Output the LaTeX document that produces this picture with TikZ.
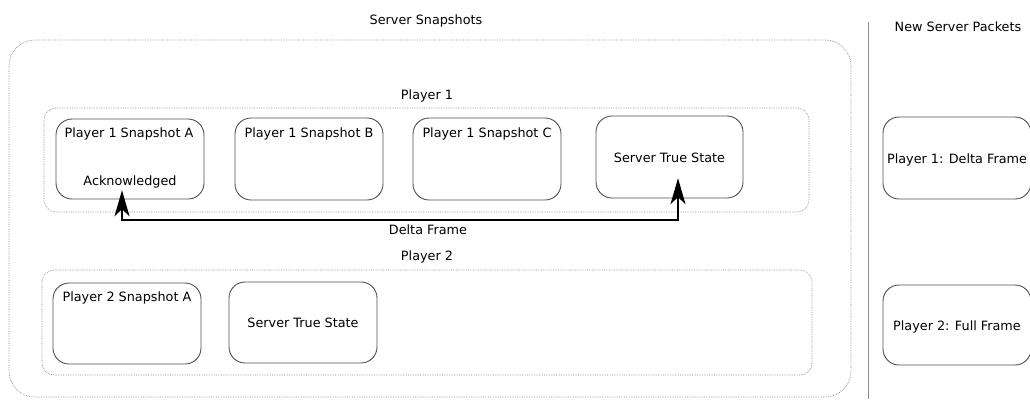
\documentclass[tikz,border=0pt]{standalone}
\usepackage{fontspec}
\setmainfont{DejaVu Sans}
\usetikzlibrary{arrows.meta}
\definecolor{boxline}{HTML}{505050}
\definecolor{grpline}{HTML}{8C8C8C}
\begin{document}
\begin{tikzpicture}[x=1pt,y=-1pt,
  font=\fontsize{12.8}{15}\selectfont,
  card/.style={draw=boxline, line width=0.9pt, rounded corners=16pt, fill=white},
  group/.style={draw=grpline, densely dotted, line width=0.7pt, rounded corners=12pt},
  lbl/.style={inner sep=0pt, anchor=base},
  delta/.style={line width=1.6pt, {Stealth[length=26pt,width=15pt,inset=7pt]}-{Stealth[length=26pt,width=15pt,inset=7pt]}}
]
\useasboundingbox (0,0) rectangle (1030,399);

% titles
\node[lbl] (ttlSnap) at (426,24) {Server Snapshots};
\node[lbl] (ttlPkt) at (958,31) {New Server Packets};
\coordinate (sepTop) at (868,22);
\coordinate (sepBot) at (868,399);
\draw[color=gray!90, line width=1pt] (sepTop) -- (sepBot);

% outer frame
\draw[group, rounded corners=26pt] (9,40) rectangle (851,397);

% player 1 group
\node[lbl] (p1lbl) at (427,99) {Player 1};
\draw[group] (44,108) rectangle (809,212);
\draw[card] (56,119) rectangle (204,199);
\node[minimum width=148pt, minimum height=80pt, inner sep=0pt] (snapA) at (130,159) {};
\node[lbl] (snapAt) at (129,137) {Player 1 Snapshot A};
\node[lbl] (ack) at (130,185) {Acknowledged};
\draw[card] (235,118) rectangle (383,200);
\node[lbl] (snapBt) at (309,137) {Player 1 Snapshot B};
\draw[card] (413,118) rectangle (561,200);
\node[lbl] (snapCt) at (487,137) {Player 1 Snapshot C};
\draw[card] (596,116) rectangle (743,198);
\node[minimum width=147pt, minimum height=82pt, inner sep=0pt] (sts1) at (669.5,157) {};
\node[lbl] (sts1t) at (669.5,162) {Server True State};

% delta frame link
\draw[delta] ([xshift=-8pt,yshift=9pt]snapA.south) -- ++(0,30) -| ([xshift=8.5pt,yshift=20pt]sts1.south);
\node[lbl] (dlbl) at (428,234) {Delta Frame};

% player 2 group
\node[lbl] (p2lbl) at (427,260) {Player 2};
\draw[group] (42,270) rectangle (812,375);
\draw[card] (53,283) rectangle (201,364);
\node[lbl] (snap2t) at (127,301) {Player 2 Snapshot A};
\draw[card] (229,282) rectangle (377,363);
\node[lbl] (sts2t) at (303,327) {Server True State};

% packets
\draw[card] (883,117) rectangle (1031,199);
\node[lbl] (pk1) at (957,163) {Player 1: Delta Frame};
\draw[card] (883,285) rectangle (1031,365);
\node[lbl] (pk2) at (957,330) {Player 2: Full Frame};
\end{tikzpicture}
\end{document}
